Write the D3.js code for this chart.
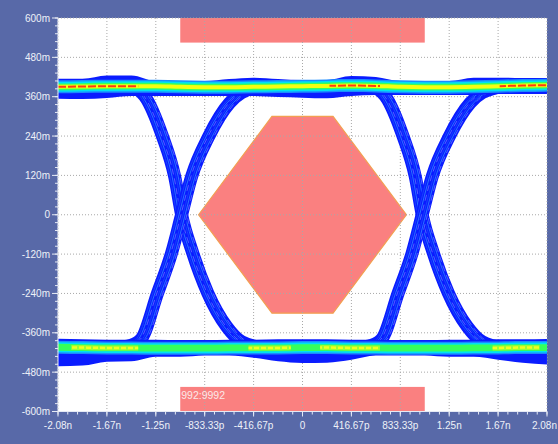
<!DOCTYPE html>
<head>
  <meta charset="utf-8">
  <script src="https://d3js.org/d3.v7.min.js"></script>
  <style>
    body { margin:0; background:#5869a8; overflow:hidden; }
    text { font-family:"Liberation Sans", Arial, sans-serif; font-size:10px; fill:#eef1f8; }
  </style>
</head>
<body>
<div id=figure></div>
<script>
// axes: time in ns, voltage in mV
var xTicks  = [-2.0833,-1.6667,-1.25,-0.8333,-0.4167,0,0.4167,0.8333,1.25,1.6667,2.0833];
var xLabels = ["-2.08n","-1.67n","-1.25n","-833.33p","-416.67p","0","416.67p","833.33p","1.25n","1.67n","2.08n"];
var yTicks  = [600,480,360,240,120,0,-120,-240,-360,-480,-600];
var yLabels = ["600m","480m","360m","240m","120m","0","-120m","-240m","-360m","-480m","-600m"];

// rails, read every 208 ps
var bandT   = [-2.083,-1.875,-1.667,-1.458,-1.25,-1.042,-0.833,-0.625,-0.417,-0.208,0,0.208,0.417,0.625,0.833,1.042,1.25,1.458,1.667,1.875,2.083];
var topHi   = [415,415,425,425,408,408,408,414,418,414,411,411,423,420,408,408,408,418,418,417,417];
var topLo   = [354,353,356,362,362,362,362,362,362,359,357,355,362,365,365,365,365,365,368,368,368];
var topCore = [390,391,392,392,392,390,389,389,390,391,392,393,394,393,390,389,389,390,392,394,395];
var botHi   = [-378,-380,-381,-381,-381,-382,-382,-381,-381,-380,-380,-380,-381,-381,-382,-382,-381,-381,-380,-380,-379];
var botLo   = [-462,-460,-448,-447,-433,-433,-429,-429,-436,-447,-452,-451,-442,-429,-429,-429,-433,-433,-442,-451,-457];
var botCore = [-404,-405,-406,-406,-407,-407,-407,-406,-406,-406,-405,-405,-406,-406,-407,-407,-407,-406,-406,-405,-405];

// hot spots on the rails (ns ranges)
var topRed    = [[-2.083,-1.40],[0.23,0.66],[1.68,2.083]];
var botYellow = [[-1.97,-1.40],[-0.46,-0.10],[0.15,0.66],[1.62,2.02]];

// edges, time relative to the crossing
var crossT = [-1.03, 1.02];
var fallT = [-0.56,-0.42,-0.315,-0.162,-0.059,0,0.094,0.222,0.384,0.511,0.70];
var fallV = [392,388,362,238,116,0,-116,-238,-341,-387,-406];
var riseT = [-0.62,-0.46,-0.349,-0.204,-0.085,0,0.085,0.230,0.409,0.511,0.70];
var riseV = [-406,-401,-381,-238,-116,0,116,238,341,372,392];
var spread = [-0.04, -0.022, -0.006, 0.012, 0.03, 0.045];

// USB HS template
var maskT = [-0.8854,-0.2604,0.2604,0.8854,0.2604,-0.2604];
var maskV = [0,300,300,0,-300,-300];
var barT = [-1.0417, 1.0417];
var barV = [525, 600];
var maskText = "992:9992";

var margin = {top:18, right:11, bottom:32.5, left:58};
var width = 558 - margin.left - margin.right;
var height = 444 - margin.top - margin.bottom;

var svg = d3.select("#figure").append("svg")
  .attr("width", 558).attr("height", 444)
  .append("g")
  .attr("transform", "translate(" + margin.left + "," + margin.top + ")");

var x = d3.scaleLinear().domain([-2.0833, 2.0833]).range([0, width]);
var y = d3.scaleLinear().domain([-600, 600]).range([height, 0]);

svg.append("rect").attr("width", width).attr("height", height).attr("fill", "#fff");

svg.append("clipPath").attr("id", "plot")
  .append("rect").attr("width", width).attr("height", height);

// masks
var maskFill = "#fa8080";
var maskLine = d3.line().x(function(p) { return x(p[0]); }).y(function(p) { return y(p[1]); });
svg.append("path")
  .datum(maskT.map(function(t, i) { return [t, maskV[i]]; }))
  .attr("d", function(d) { return maskLine(d) + "Z"; })
  .attr("fill", maskFill).attr("stroke", "#f2a050").attr("stroke-width", 1.2);

[1, -1].forEach(function(s) {
  svg.append("rect")
    .attr("x", x(barT[0])).attr("width", x(barT[1]) - x(barT[0]))
    .attr("y", s > 0 ? y(barV[1]) : y(-barV[0]))
    .attr("height", y(barV[0]) - y(barV[1]))
    .attr("fill", maskFill);
});
svg.append("text")
  .attr("x", x(barT[0]) + 1).attr("y", y(-barV[0]) + 12)
  .style("font-size", "10.5px").style("fill", "#fbe8e8")
  .text(maskText);

// grid
var grid = svg.append("g").attr("stroke", "#a8a8a8").attr("stroke-dasharray", "1,2");
xTicks.forEach(function(t) {
  grid.append("line").attr("x1", x(t)).attr("x2", x(t)).attr("y1", 0).attr("y2", height);
});
yTicks.forEach(function(v) {
  grid.append("line").attr("y1", y(v)).attr("y2", y(v)).attr("x1", 0).attr("x2", width);
});

var eye = svg.append("g").attr("clip-path", "url(#plot)");

// edges
var edgeLine = d3.line().curve(d3.curveMonotoneX)
  .x(function(d) { return x(d[0]); }).y(function(d) { return y(d[1]); });

crossT.forEach(function(c) {
  [[fallT, fallV], [riseT, riseV]].forEach(function(e) {
    var pts = e[0].map(function(dt, i) { return [c + dt, e[1][i]]; });
    eye.append("path").datum(pts).attr("d", edgeLine)
      .attr("fill", "none").attr("stroke", "#0a1cff").attr("stroke-width", 13)
      .attr("stroke-linecap", "round");
    spread.forEach(function(o, k) {
      var p2 = pts.map(function(p) { return [p[0] + o, p[1]]; });
      eye.append("path").datum(p2).attr("d", edgeLine)
        .attr("fill", "none")
        .attr("stroke", k % 3 == 2 ? "#ffffff" : (k % 3 ? "#2c7cff" : "#1846ff"))
        .attr("stroke-width", k % 3 == 2 ? 0.5 : 1)
        .attr("stroke-dasharray", k % 3 == 2 ? "6,4" : null)
        .attr("opacity", k % 3 == 2 ? 0.6 : 0.9);
    });
  });
});

// rails
function drawRail(hi, lo, core, segs, segColor, top) {
  var band = bandT.map(function(t, i) { return [t, hi[i], lo[i], core[i]]; });
  eye.append("path").datum(band)
    .attr("d", d3.area().curve(d3.curveMonotoneX)
      .x(function(d) { return x(d[0]); })
      .y0(function(d) { return y(d[1]); })
      .y1(function(d) { return y(d[2]); }))
    .attr("fill", "#0a1cff");
  [[6.5, "#1a8cff"], [5, "#00e0f4"], [3.4, "#36ff5a"]].forEach(function(l) {
    eye.append("path").datum(band)
      .attr("d", d3.area().curve(d3.curveMonotoneX)
        .x(function(d) { return x(d[0]); })
        .y0(function(d) { return y(d[3]) - l[0]; })
        .y1(function(d) { return y(d[3]) + l[0]; }))
      .attr("fill", l[1]);
  });
  var coreLine = d3.line().curve(d3.curveMonotoneX)
    .x(function(d) { return x(d[0]); }).y(function(d) { return y(d[3]); });
  if (top) {
    eye.append("path").datum(band).attr("d", coreLine)
      .attr("fill", "none").attr("stroke", "#f4ff10").attr("stroke-width", 4);
  }
  segs.forEach(function(s, i) {
    var id = "seg" + (top ? "t" : "b") + i;
    svg.append("clipPath").attr("id", id).append("rect")
      .attr("x", x(s[0])).attr("width", x(s[1]) - x(s[0]))
      .attr("y", 0).attr("height", height);
    if (!top) {
      eye.append("path").datum(band).attr("d", coreLine)
        .attr("clip-path", "url(#" + id + ")")
        .attr("fill", "none").attr("stroke", "#b4ff28").attr("stroke-width", 5)
        .attr("opacity", 0.8);
    }
    eye.append("path").datum(band).attr("d", coreLine)
      .attr("clip-path", "url(#" + id + ")")
      .attr("fill", "none").attr("stroke", segColor)
      .attr("stroke-width", top ? 2 : 2.5)
      .attr("stroke-dasharray", top ? "8,2" : "5,2");
  });
}
drawRail(topHi, topLo, topCore, topRed, "#ff3a10", true);
drawRail(botHi, botLo, botCore, botYellow, "#f0ff20", false);

// axes
var tickCol = "#e6eaf4";
svg.append("line").attr("x1", 0).attr("x2", 0).attr("y1", 0).attr("y2", height)
  .attr("stroke", tickCol);
svg.append("line").attr("x1", 0).attr("x2", width).attr("y1", height).attr("y2", height)
  .attr("stroke", tickCol);

var yMinor = d3.range(-600, 601, 24);
svg.selectAll(".ymin").data(yMinor).enter().append("line")
  .attr("x1", -3).attr("x2", 0)
  .attr("y1", function(d) { return y(d); }).attr("y2", function(d) { return y(d); })
  .attr("stroke", tickCol);
svg.selectAll(".ymaj").data(yTicks).enter().append("line")
  .attr("x1", -6).attr("x2", 0)
  .attr("y1", function(d) { return y(d); }).attr("y2", function(d) { return y(d); })
  .attr("stroke", tickCol);
svg.selectAll(".ylab").data(yTicks).enter().append("text")
  .attr("x", -8).attr("y", function(d) { return y(d); }).attr("dy", "0.35em")
  .attr("text-anchor", "end")
  .text(function(d, i) { return yLabels[i]; });

var xMinor = d3.range(51).map(function(i) { return -2.0833 + i * 0.083333; });
svg.selectAll(".xmin").data(xMinor).enter().append("line")
  .attr("x1", function(d) { return x(d); }).attr("x2", function(d) { return x(d); })
  .attr("y1", height).attr("y2", height + 3)
  .attr("stroke", tickCol);
svg.selectAll(".xmaj").data(xTicks).enter().append("line")
  .attr("x1", function(d) { return x(d); }).attr("x2", function(d) { return x(d); })
  .attr("y1", height).attr("y2", height + 5)
  .attr("stroke", tickCol);
svg.selectAll(".xlab").data(xTicks).enter().append("text")
  .attr("x", function(d, i) { return i == xTicks.length - 1 ? width + 10 : x(d); })
  .attr("y", height + 17.5)
  .attr("text-anchor", function(d, i) { return i == xTicks.length - 1 ? "end" : "middle"; })
  .text(function(d, i) { return xLabels[i]; });
</script>
</body>
